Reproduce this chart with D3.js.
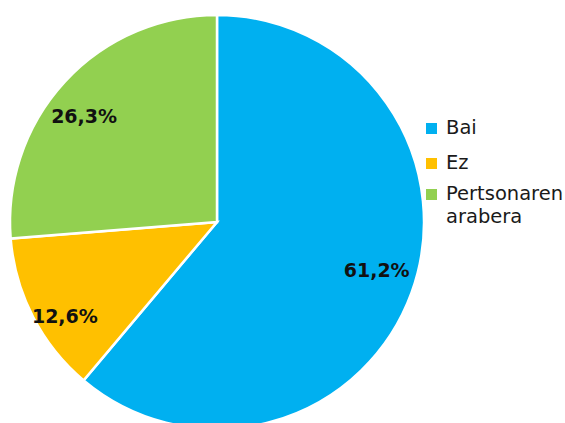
<!DOCTYPE html>
<html>
<head>
<meta charset="utf-8">
<script src="https://cdn.jsdelivr.net/npm/d3@7"></script>
<style>
  body { margin: 0; background: #fff; }
  svg { display: block; }
</style>
</head>
<body>
<div id="chart"></div>
<script>
const categories = ["Bai", "Ez", "Pertsonaren arabera"];
const values = [61.2, 12.6, 26.3];
const colors = ["#00B0F0", "#FFC000", "#92D050"];

const width = 565;
const height = 423;
const cx = 217, cy = 222, radius = 207;
const font = "'DejaVu Sans', sans-serif";

const svg = d3.select("#chart")
  .append("svg")
  .attr("width", width)
  .attr("height", height);

const pie = d3.pie().sort(null).value(d => d);
const arcs = pie(values);

const arc = d3.arc().innerRadius(0).outerRadius(radius);
const labelArc = d3.arc().innerRadius(170).outerRadius(170);

const g = svg.append("g").attr("transform", "translate(" + cx + "," + cy + ")");

g.selectAll("path")
  .data(arcs)
  .enter()
  .append("path")
  .attr("d", arc)
  .attr("fill", (d, i) => colors[i])
  .attr("stroke", "#fff")
  .attr("stroke-width", 2.5)
  .attr("stroke-linejoin", "miter");

// excel's "best fit" nudges the labels a bit off the centroid
const nudge = [[0, -10], [-1, 16], [-8, 9]];

g.selectAll("text.lbl")
  .data(arcs)
  .enter()
  .append("text")
  .attr("class", "lbl")
  .attr("x", (d, i) => labelArc.centroid(d)[0] + nudge[i][0])
  .attr("y", (d, i) => labelArc.centroid(d)[1] + nudge[i][1])
  .attr("dy", "0.36em")
  .attr("text-anchor", "middle")
  .style("font-family", font)
  .style("font-weight", "bold")
  .style("font-size", "19px")
  .attr("fill", "#111")
  .text(d => d3.format(".1f")(d.data).replace(".", ",") + "%");

// legend
const legend = svg.append("g").attr("transform", "translate(426,122)");
const rowY = d3.scaleOrdinal().domain(categories).range([0, 35, 66]);

const item = legend.selectAll("g")
  .data(categories)
  .enter()
  .append("g")
  .attr("transform", d => "translate(0," + rowY(d) + ")");

item.append("rect")
  .attr("width", 11)
  .attr("height", 11)
  .attr("y", 1)
  .attr("fill", (d, i) => colors[i]);

item.append("text")
  .attr("x", 20)
  .attr("y", 12)
  .style("font-family", font)
  .style("font-size", "19.5px")
  .attr("fill", "#1a1a1a")
  .each(function(d) {
    const words = d === "Pertsonaren arabera" ? ["Pertsonaren", "arabera"] : [d];
    const t = d3.select(this);
    words.forEach((w, k) => {
      t.append("tspan").attr("x", 20).attr("dy", k === 0 ? 0 : 23).text(w);
    });
  });
</script>
</body>
</html>
